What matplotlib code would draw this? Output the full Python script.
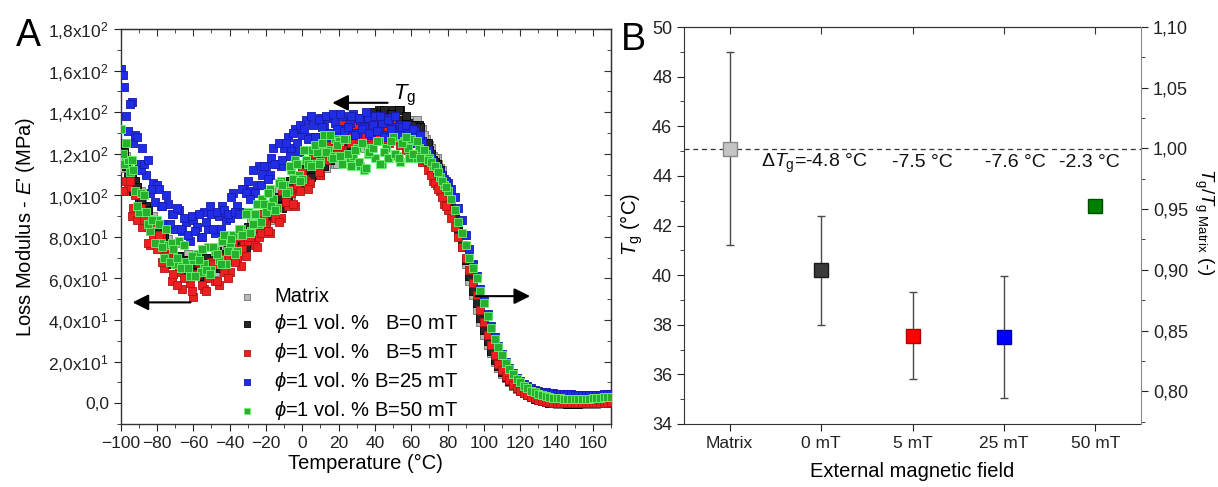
import numpy as np
import matplotlib
matplotlib.use("Agg")
import matplotlib.pyplot as plt
from matplotlib.ticker import FixedLocator, MultipleLocator

plt.rcParams['font.family'] = ['Liberation Sans', 'DejaVu Sans']
plt.rcParams['mathtext.fontset'] = 'custom'
plt.rcParams['mathtext.rm'] = 'Liberation Sans'
plt.rcParams['mathtext.it'] = 'Liberation Sans:italic'
plt.rcParams['mathtext.bf'] = 'Liberation Sans:bold'
plt.rcParams['mathtext.fallback'] = 'stixsans'

# ---------------- Panel A data ----------------
temperature = [
    -100, -98, -96, -94, -92, -90, -88, -86, -84, -82,
    -80, -78, -76, -74, -72, -70, -68, -66, -64, -62,
    -60, -58, -56, -54, -52, -50, -48, -46, -44, -42,
    -40, -38, -36, -34, -32, -30, -28, -26, -24, -22,
    -20, -18, -16, -14, -12, -10, -8, -6, -4, -2,
    0, 2, 4, 6, 8, 10, 12, 14, 16, 18,
    20, 22, 24, 26, 28, 30, 32, 34, 36, 38,
    40, 42, 44, 46, 48, 50, 52, 54, 56, 58,
    60, 62, 64, 66, 68, 70, 72, 74, 76, 78,
    80, 82, 84, 86, 88, 90, 92, 94, 96, 98,
    100, 102, 104, 106, 108, 110, 112, 114, 116, 118,
    120, 122, 124, 126, 128, 130, 132, 134, 136, 138,
    140, 142, 144, 146, 148, 150, 152, 154, 156, 158,
    160, 162, 164, 166, 168, 170]

loss_matrix = [
    124, 113, 113, 112, 103, 95, 99, 92, 85, 90,
    81, 80, 73, 79, 71, 77, 69, 65, 69, 70,
    62, 69, 71, 66, 65, 69, 63, 74, 71, 70,
    77, 74, 72, 79, 82, 77, 88, 84, 85, 90,
    95, 88, 95, 99, 96, 104, 101, 100, 108, 108,
    106, 115, 107, 113, 112, 110, 119, 116, 119, 115,
    124, 119, 124, 119, 128, 127, 123, 133, 128, 130,
    128, 135, 131, 134, 129, 134, 138, 132, 130, 134,
    136, 131, 126, 132, 127, 124, 119, 118, 113, 107,
    103, 97, 90, 83, 75, 67, 59, 52, 45, 39,
    33, 28, 24, 20, 17, 14, 12, 10, 8.5, 7,
    5.8, 4.8, 4.0, 3.2, 2.5, 1.8, 1.2, 0.7, 0.3, 0.0,
    -0.2, -0.3, -0.4, -0.5, -0.5, -0.5, -0.4, -0.4, -0.3, -0.3,
    -0.2, -0.2, -0.1, 0.0, 0.1, 0.2]

loss_b0 = [
    123, 121, 109, 109, 107, 97, 95, 95, 83, 85,
    83, 75, 80, 72, 67, 70, 71, 65, 66, 69,
    61, 66, 67, 60, 67, 70, 66, 65, 72, 69,
    72, 77, 73, 73, 79, 85, 79, 85, 85, 90,
    86, 93, 98, 95, 95, 102, 97, 107, 107, 106,
    113, 109, 112, 110, 118, 118, 114, 124, 120, 125,
    123, 122, 130, 130, 135, 129, 133, 131, 139, 135,
    139, 141, 137, 134, 139, 141, 135, 141, 133, 135,
    133, 134, 134, 126, 121, 122, 117, 115, 112, 106,
    102, 96, 90, 83, 76, 69, 61, 54, 48, 41,
    35, 30, 25, 21, 18, 15, 12.5, 10.5, 8.8, 7.3,
    6.0, 4.9, 3.9, 3.0, 2.2, 1.5, 1.0, 0.6, 0.3, 0.1,
    0.0, -0.1, -0.1, -0.2, -0.2, -0.2, -0.2, -0.1, -0.1, 0.0,
    0.0, 0.0, 0.1, 0.1, 0.2, 0.2]

loss_b5 = [
    115, 102, 104, 90, 100, 91, 85, 92, 76, 80,
    74, 81, 65, 71, 59, 68, 63, 55, 66, 58,
    51, 62, 64, 55, 60, 68, 59, 57, 67, 70,
    63, 76, 70, 66, 78, 78, 83, 76, 80, 91,
    86, 82, 94, 94, 89, 102, 95, 101, 95, 107,
    111, 107, 106, 119, 114, 110, 120, 124, 119, 123,
    132, 122, 136, 129, 126, 134, 129, 137, 126, 133,
    136, 129, 131, 137, 125, 132, 128, 124, 130, 124,
    126, 120, 125, 116, 117, 113, 107, 105, 102, 96,
    93, 89, 85, 80, 75, 70, 64, 58, 52, 45,
    39, 33, 28, 23, 19, 16, 13, 11, 9, 7.5,
    6.0, 4.8, 3.8, 3.0, 2.3, 1.7, 1.2, 0.8, 0.5, 0.3,
    0.2, 0.1, 0.1, 0.0, 0.0, 0.0, 0.0, 0.0, 0.1, 0.1,
    0.1, 0.2, 0.2, 0.3, 0.3, 0.4]

loss_b25 = [
    161, 152, 131, 145, 129, 115, 123, 110, 101, 106,
    105, 95, 86, 96, 91, 84, 93, 83, 87, 78,
    88, 85, 80, 92, 84, 91, 82, 90, 95, 88,
    89, 101, 95, 92, 103, 107, 102, 101, 114, 110,
    114, 110, 123, 115, 114, 123, 128, 123, 132, 121,
    129, 136, 128, 134, 128, 137, 133, 137, 130, 135,
    131, 138, 132, 135, 139, 130, 136, 133, 137, 129,
    138, 132, 135, 129, 137, 133, 130, 134, 127, 131,
    127, 131, 125, 126, 121, 120, 116, 112, 111, 108,
    106, 103, 99, 94, 88, 81, 74, 67, 61, 55,
    49, 43, 37, 32, 27.5, 23.5, 20, 17, 14.5, 12.3,
    10.5, 9.2, 8.1, 7.2, 6.5, 6.0, 5.6, 5.3, 5.0, 4.8,
    4.6, 4.5, 4.4, 4.3, 4.2, 4.1, 4.0, 4.0, 3.9, 3.9,
    3.9, 4.0, 4.1, 4.2, 4.3, 4.4]

loss_b50 = [
    132, 115, 117, 117, 102, 92, 101, 92, 83, 88,
    88, 77, 70, 76, 77, 67, 78, 66, 68, 61,
    69, 72, 63, 67, 75, 64, 73, 69, 78, 67,
    76, 81, 73, 84, 82, 92, 83, 91, 86, 98,
    92, 103, 98, 94, 107, 105, 102, 112, 117, 110,
    108, 117, 122, 115, 121, 116, 129, 122, 119, 127,
    126, 115, 127, 118, 119, 123, 114, 112, 120, 123,
    118, 126, 115, 123, 118, 128, 119, 116, 126, 123,
    127, 118, 123, 118, 120, 118, 114, 113, 109, 105,
    102, 98, 93, 87, 82, 76, 70, 65, 60, 54,
    48, 42, 36, 31, 27, 23, 19.5, 16.5, 14, 11.8,
    10.0, 8.5, 7.2, 6.1, 5.2, 4.5, 3.9, 3.4, 3.0, 2.7,
    2.5, 2.3, 2.2, 2.1, 2.0, 2.0, 2.0, 2.0, 2.1, 2.2,
    2.3, 2.4, 2.6, 2.8, 3.0, 3.2]

# interleaved readings between the above temperatures (-99 ... 79 degC)
temperature_odd = [
    -99, -97, -95, -93, -91, -89, -87, -85, -83, -81,
    -79, -77, -75, -73, -71, -69, -67, -65, -63, -61,
    -59, -57, -55, -53, -51, -49, -47, -45, -43, -41,
    -39, -37, -35, -33, -31, -29, -27, -25, -23, -21,
    -19, -17, -15, -13, -11, -9, -7, -5, -3, -1,
    1, 3, 5, 7, 9, 11, 13, 15, 17, 19,
    21, 23, 25, 27, 29, 31, 33, 35, 37, 39,
    41, 43, 45, 47, 49, 51, 53, 55, 57, 59,
    61, 63, 65, 67, 69, 71, 73, 75, 77, 79]

loss_matrix_odd = [
    117, 119, 109, 102, 104, 102, 93, 85, 88, 87,
    86, 76, 77, 70, 76, 70, 66, 71, 72, 66,
    68, 64, 72, 66, 68, 65, 73, 72, 68, 77,
    72, 77, 81, 74, 81, 79, 88, 85, 90, 86,
    95, 93, 92, 102, 101, 99, 98, 109, 106, 110,
    105, 112, 115, 111, 119, 114, 113, 118, 122, 115,
    122, 126, 122, 127, 122, 130, 128, 125, 134, 130,
    135, 128, 133, 132, 136, 131, 133, 138, 132, 134,
    131, 136, 129, 129, 124, 123, 118, 115, 112, 105]

loss_b0_odd = [
    125, 114, 111, 102, 104, 98, 89, 93, 85, 80,
    79, 81, 71, 73, 75, 67, 64, 68, 69, 64,
    67, 61, 66, 70, 63, 66, 73, 67, 70, 74,
    69, 75, 80, 77, 75, 83, 84, 82, 91, 88,
    95, 90, 94, 99, 94, 102, 107, 103, 108, 104,
    109, 115, 109, 116, 114, 122, 119, 117, 124, 125,
    128, 126, 124, 134, 130, 134, 131, 136, 132, 140,
    135, 139, 141, 135, 139, 134, 141, 136, 138, 134,
    134, 128, 133, 125, 125, 120, 116, 113, 109, 104]

loss_b5_odd = [
    102, 107, 107, 94, 88, 94, 88, 77, 86, 77,
    81, 68, 71, 75, 62, 57, 66, 60, 67, 54,
    62, 68, 57, 54, 62, 67, 59, 70, 63, 60,
    73, 68, 80, 74, 71, 80, 85, 75, 82, 88,
    83, 94, 89, 87, 102, 97, 103, 96, 105, 102,
    108, 103, 116, 116, 111, 123, 117, 120, 127, 120,
    124, 134, 129, 125, 134, 129, 137, 128, 133, 136,
    130, 137, 127, 132, 136, 127, 128, 132, 122, 128,
    127, 118, 121, 122, 112, 110, 106, 103, 99, 95]

loss_b25_odd = [
    158, 138, 144, 125, 128, 112, 115, 117, 103, 97,
    103, 95, 100, 86, 91, 94, 84, 89, 81, 90,
    83, 91, 80, 87, 95, 84, 92, 84, 93, 91,
    99, 92, 91, 103, 101, 98, 112, 105, 105, 114,
    108, 118, 115, 125, 117, 125, 119, 130, 125, 134,
    132, 127, 138, 128, 136, 133, 138, 128, 139, 132,
    139, 131, 133, 138, 129, 137, 132, 140, 130, 134,
    131, 138, 128, 136, 132, 138, 129, 133, 134, 125,
    132, 125, 129, 120, 122, 118, 114, 112, 110, 107]

loss_b50_odd = [
    120, 125, 111, 112, 95, 101, 100, 86, 88, 77,
    86, 75, 84, 68, 74, 70, 65, 76, 65, 71,
    61, 69, 74, 64, 62, 75, 72, 67, 81, 73,
    79, 72, 84, 81, 91, 82, 86, 96, 87, 96,
    101, 95, 93, 106, 105, 101, 114, 108, 115, 107,
    122, 115, 114, 124, 115, 125, 121, 129, 118, 124,
    119, 127, 120, 114, 122, 116, 125, 113, 121, 123,
    126, 115, 121, 118, 126, 120, 118, 125, 128, 118,
    120, 126, 118, 122, 117, 116, 114, 111, 107, 104]

series_labels = [
    "Matrix",
    r"$\phi$=1 vol. %   B=0 mT",
    r"$\phi$=1 vol. %   B=5 mT",
    r"$\phi$=1 vol. % B=25 mT",
    r"$\phi$=1 vol. % B=50 mT",
]
a_yticks = [0, 20, 40, 60, 80, 100, 120, 140, 160, 180]
a_yticklabels = ["0,0", r"2,0x10$^1$", r"4,0x10$^1$", r"6,0x10$^1$", r"8,0x10$^1$",
                 r"1,0x10$^2$", r"1,2x10$^2$", r"1,4x10$^2$", r"1,6x10$^2$", r"1,8x10$^2$"]
a_xticks = [-100, -80, -60, -40, -20, 0, 20, 40, 60, 80, 100, 120, 140, 160]

# ---------------- Panel B data ----------------
field_labels = ["Matrix", "0 mT", "5 mT", "25 mT", "50 mT"]
tg_values = [45.1, 40.2, 37.55, 37.5, 42.8]
tg_errors = [3.9, 2.2, 1.75, 2.45, 0.1]
delta_labels = [r"$\Delta \mathit{T}_\mathrm{g}$=-4.8 °C", "-7.5 °C", "-7.6 °C", "-2.3 °C"]
delta_pos = [0.34, 1.78, 2.79, 3.60]
b_right_ticks = [0.80, 0.85, 0.90, 0.95, 1.00, 1.05, 1.10]
b_right_labels = ["0,80", "0,85", "0,90", "0,95", "1,00", "1,05", "1,10"]

# ---------------- Figure ----------------
fig = plt.figure(figsize=(12.18, 4.87), dpi=100)
axA = fig.add_axes([120.7 / 1218, 63 / 487, 490.3 / 1218, 395 / 487])
axB = fig.add_axes([684 / 1218, 63 / 487, 457 / 1218, 397 / 487])

face = ['#b8b8b8', '#262626', '#ec2020', '#1f2ee6', '#27b030']
edge = ['#707070', '#000000', '#b01414', '#1818a8', '#6cf56c']
series = [loss_matrix, loss_b0, loss_b5, loss_b25, loss_b50]
series_odd = [loss_matrix_odd, loss_b0_odd, loss_b5_odd, loss_b25_odd, loss_b50_odd]
for vals, vals_odd, fc, ec, lab in zip(series, series_odd, face, edge, series_labels):
    axA.scatter(temperature + temperature_odd, vals + vals_odd, s=28, marker='s',
                facecolor=fc, edgecolor=ec, linewidth=0.6, label=lab, zorder=3)

axA.set_xlim(-100, 170)
axA.set_ylim(-10, 180)
axA.xaxis.set_major_locator(FixedLocator(a_xticks))
axA.xaxis.set_minor_locator(MultipleLocator(10))
axA.yaxis.set_major_locator(FixedLocator(a_yticks))
axA.set_yticklabels(a_yticklabels)
axA.yaxis.set_minor_locator(MultipleLocator(10))
axA.tick_params(axis='both', which='both', direction='out', labelsize=12.5, colors='#222222')
axA.tick_params(which='major', length=5)
axA.tick_params(which='minor', length=3)
for sp in axA.spines.values():
    sp.set_color('#333333')
    sp.set_linewidth(1.0)

# inward ticks on top and right of panel A
secA_x = axA.secondary_xaxis('top')
secA_x.xaxis.set_major_locator(FixedLocator(a_xticks))
secA_x.xaxis.set_minor_locator(MultipleLocator(10))
secA_x.tick_params(which='both', direction='in', labeltop=False, colors='#333333')
secA_x.tick_params(which='major', length=5)
secA_x.tick_params(which='minor', length=3)
secA_y = axA.secondary_yaxis('right')
secA_y.yaxis.set_major_locator(FixedLocator(a_yticks))
secA_y.yaxis.set_minor_locator(MultipleLocator(10))
secA_y.tick_params(which='both', direction='in', labelright=False, colors='#333333')
secA_y.tick_params(which='major', length=5)
secA_y.tick_params(which='minor', length=3)

axA.set_xlabel("Temperature (°C)", fontsize=14.5, labelpad=2)
axA.set_ylabel("Loss Modulus - $E$' (MPa)", fontsize=14.5)
axA.yaxis.set_label_coords(-0.17, 0.5)

leg = axA.legend(loc='upper left', bbox_to_anchor=(0.237, 0.347), frameon=False,
                 fontsize=14.5, handlelength=1.0, handletextpad=0.85, labelspacing=0.3,
                 borderpad=0, borderaxespad=0, markerscale=0.7)

# arrows on panel A
arrow_kw = dict(arrowstyle='-|>', color='black', lw=1.5, mutation_scale=24)
axA.annotate("", xy=(-95, 48.5), xytext=(-60, 48.5), arrowprops=arrow_kw, zorder=5)
axA.annotate("", xy=(15, 144.5), xytext=(48.5, 144.5), arrowprops=arrow_kw, zorder=5)
axA.annotate("", xy=(127, 51.5), xytext=(94, 51.5), arrowprops=arrow_kw, zorder=5)
axA.text(50, 146, r"$\mathit{T}_\mathrm{g}$", fontsize=16, ha='left', va='baseline')

# ---------------- Panel B ----------------
xpos = np.arange(len(field_labels))
b_face = ['#c4c4c4', '#3a3a3a', '#ff0000', '#0000ff', '#008000']
b_edge = ['#888888', '#1a1a1a', '#b00000', '#0000a0', '#004d00']
for i in range(len(field_labels)):
    axB.errorbar(xpos[i], tg_values[i], yerr=tg_errors[i], fmt='s', ms=10,
                 mfc=b_face[i], mec=b_edge[i], mew=1.0, ecolor='#4a4a4a',
                 elinewidth=1.0, capsize=3.2, capthick=1.0, zorder=3)
axB.axhline(tg_values[0], color='#333333', lw=0.9, ls=(0, (4, 3)), zorder=2)
for lab, xp in zip(delta_labels, delta_pos):
    axB.text(xp, 44.37, lab, fontsize=14, ha='left', va='baseline', color='#111111')

axB.set_xlim(-0.5, 4.5)
axB.set_ylim(34, 50)
axB.set_xticks(xpos)
axB.set_xticklabels(field_labels)
axB.yaxis.set_major_locator(MultipleLocator(2))
axB.yaxis.set_minor_locator(MultipleLocator(1))
axB.tick_params(axis='y', which='both', direction='out', labelsize=13, colors='#222222')
axB.tick_params(axis='y', which='major', length=5)
axB.tick_params(axis='y', which='minor', length=3)
axB.tick_params(axis='x', which='both', direction='out', labelsize=12.5, length=5,
                colors='#222222')
axB.set_xlabel("External magnetic field", fontsize=14.5, labelpad=8)
axB.spines['right'].set_visible(False)
for sp in ['left', 'top', 'bottom']:
    axB.spines[sp].set_color('#333333')

secB_x = axB.secondary_xaxis('top')
secB_x.set_xticks(xpos)
secB_x.tick_params(direction='in', labeltop=False, length=5, colors='#333333')

axB2 = axB.twinx()
axB2.set_ylim(0.773, 1.10)
axB2.yaxis.set_major_locator(FixedLocator(b_right_ticks))
axB2.set_yticklabels(b_right_labels)
axB2.yaxis.set_minor_locator(MultipleLocator(0.025))
axB2.tick_params(axis='y', which='both', direction='out', labelsize=13, colors='#222222')
axB2.tick_params(axis='y', which='major', length=5)
axB2.tick_params(axis='y', which='minor', length=3)
for sp in ['left', 'top', 'bottom']:
    axB2.spines[sp].set_visible(False)
axB2.spines['right'].set_color('#8a8a8a')

fig.text(632 / 1218, 1 - 225 / 487, r"$\mathit{T}_\mathrm{g}$ (°C)", rotation=90,
         fontsize=14.5, ha='center', va='center')
fig.text(1204 / 1218, 1 - 222 / 487, r"$\mathit{T}_\mathrm{g}/\mathit{T}_\mathrm{g\ Matrix}$ (-)",
         rotation=270, fontsize=13.5, ha='center', va='center')

fig.text(28 / 1218, 1 - 36 / 487, "A", fontsize=27, ha='center', va='center')
fig.text(633 / 1218, 1 - 40 / 487, "B", fontsize=27, ha='center', va='center')

fig.savefig("out.png", dpi=100)
